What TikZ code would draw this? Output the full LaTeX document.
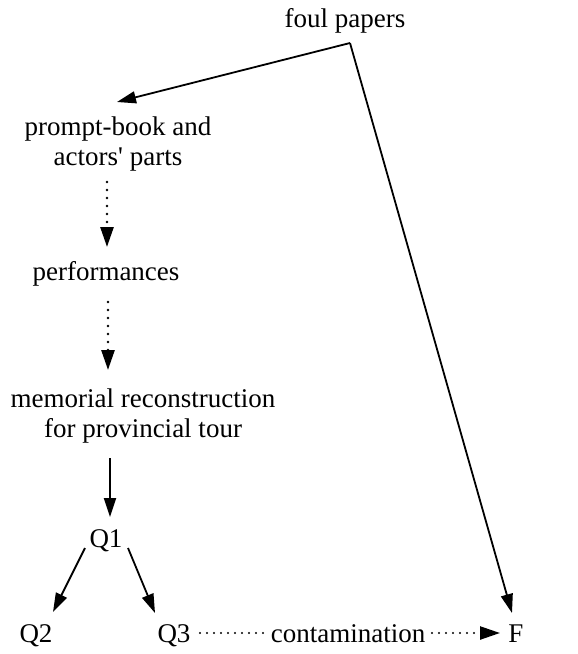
\documentclass[tikz,border=0pt]{standalone}
\usepackage{fontspec}
\setmainfont{Liberation Serif}
\usetikzlibrary{arrows.meta,calc}
\begin{document}
\begin{tikzpicture}[x=1pt,y=-1pt,
  lbl/.style={inner sep=0pt,font=\fontsize{27}{30}\selectfont,align=center},
  solidarrow/.style={line width=1.8pt,-{Triangle[length=19pt,width=12pt]}},
  dotarrow/.style={line width=2.6pt,line cap=round,dash pattern=on 0pt off 8pt,-{Triangle[length=20pt,width=13pt]}},
  hdotarrow/.style={line width=2.4pt,line cap=round,dash pattern=on 0pt off 7pt,-{Triangle[length=20pt,width=13pt]}},
  dotline/.style={line width=2.4pt,line cap=round,dash pattern=on 0pt off 7pt}]
\useasboundingbox (0,0) rectangle (578,654);
\node[lbl,anchor=base] (fp) at (345,27) {foul papers};
\node[lbl,anchor=center] (pb) at (118,144) {prompt-book and\\actors\textquotesingle{} parts};
\node[lbl,anchor=base] (perf) at (106,280) {performances};
\node[lbl,anchor=center] (mem) at (143,416) {memorial reconstruction\\for provincial tour};
\node[lbl,anchor=base] (q1) at (106,547) {Q1};
\node[lbl,anchor=base] (q2) at (36,642) {Q2};
\node[lbl,anchor=base] (q3) at (174,642) {Q3};
\node[lbl,anchor=base] (cont) at (348,642) {contamination};
\node[lbl,anchor=base] (f) at (516,642) {F};
\coordinate (j) at ($(fp.base)+(5,16)$);
\draw[solidarrow] (j) -- ($(pb.center)+(-1,-42)$);
\draw[solidarrow] (j) -- ($(f.base)+(-4,-29)$);
\draw[dotarrow] ($(pb.center)+(-11,38)$) -- ($(perf.base)+(1,-33)$);
\draw[dotarrow] ($(perf.base)+(2,22)$) -- ($(mem.center)+(-35,-46)$);
\draw[solidarrow] ($(mem.center)+(-33,42)$) -- ($(q1.base)+(4,-30)$);
\draw[solidarrow] ($(q1.base)+(-21,1)$) -- ($(q2.base)+(17,-30)$);
\draw[solidarrow] ($(q1.base)+(22,1)$) -- ($(q3.base)+(-19,-29)$);
\draw[dotline] ($(q3.base)+(26,-9)$) -- ($(cont.base)+(-82,-9)$);
\draw[hdotarrow] ($(cont.base)+(84,-9)$) -- ($(f.base)+(-16,-9)$);
\end{tikzpicture}
\end{document}
